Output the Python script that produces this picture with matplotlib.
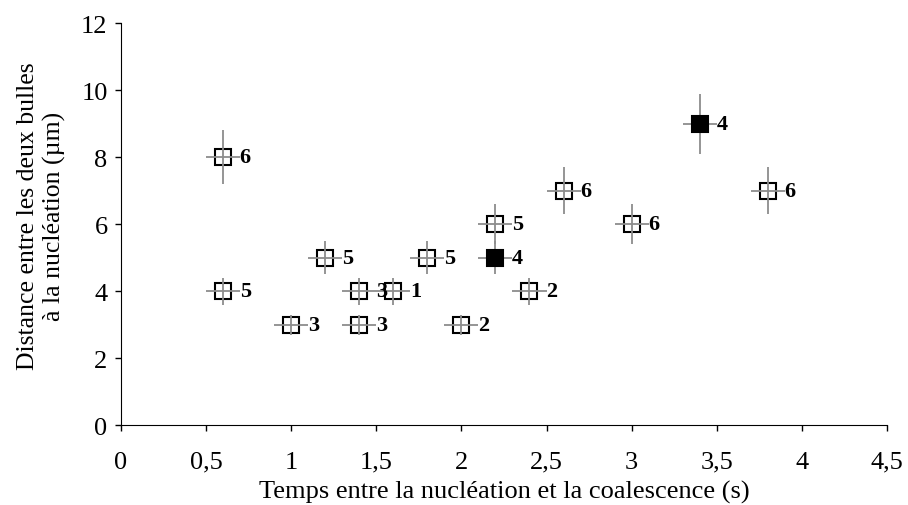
import matplotlib
matplotlib.use('Agg')
import matplotlib.pyplot as plt
import numpy as np

# data
x_temps = [0.6, 0.6, 1.0, 1.2, 1.4, 1.4, 1.6, 1.8, 2.0, 2.2, 2.4, 2.6, 3.0, 3.8]
y_dist = [8, 4, 3, 5, 4, 3, 4, 5, 3, 6, 4, 7, 6, 7]
n_labels = ['6', '5', '3', '5', '3', '3', '1', '5', '2', '5', '2', '6', '6', '6']

x_filled = [2.2, 3.4]
y_filled = [5, 9]
n_filled = ['4', '4']

x_err = 0.1
y_err_frac = 0.1

plt.rcParams['font.family'] = ['Liberation Serif', 'DejaVu Serif']

fig = plt.figure(figsize=(9.08, 5.06), dpi=100)
ax = fig.add_axes([0.133, 0.158, 0.844, 0.794])


def plot_group(xs, ys, labels, face, bars_on_top):
    xs = np.array(xs)
    ys = np.array(ys, dtype=float)
    ax.plot(xs, ys, 's', markersize=11, markerfacecolor=face,
            markeredgecolor='black', markeredgewidth=1.5, zorder=3,
            clip_on=False)
    ax.errorbar(xs, ys, xerr=x_err, yerr=ys * y_err_frac, fmt='none',
                ecolor='#8c8c8c', elinewidth=1.3, capsize=0,
                zorder=4 if bars_on_top else 2)
    for xi, yi, lab in zip(xs, ys, labels):
        ax.annotate(lab, (xi, yi), xytext=(12, 0), textcoords='offset points',
                    ha='left', va='center', fontsize=16, fontweight='bold',
                    zorder=5)


plot_group(x_temps, y_dist, n_labels, 'white', True)
plot_group(x_filled, y_filled, n_filled, 'black', False)

ax.set_xlim(0, 4.5)
ax.set_ylim(0, 12)
xt = np.arange(0, 4.51, 0.5)
ax.set_xticks(xt)
ax.set_xticklabels([('%g' % v).replace('.', ',') for v in xt])
ax.set_yticks(np.arange(0, 13, 2))
ax.spines['top'].set_visible(False)
ax.spines['right'].set_visible(False)
ax.tick_params(axis='both', labelsize=19, direction='out', length=4.5, width=1)
ax.tick_params(axis='x', pad=14)
ax.tick_params(axis='y', pad=5)

ax.set_xlabel('Temps entre la nucléation et la coalescence (s)', fontsize=19,
              labelpad=5)
ax.set_ylabel('Distance entre les deux bulles\nà la nucléation (µm)', fontsize=18.5,
              labelpad=8, linespacing=1.2)
ax.yaxis.set_label_coords(-0.072, 0.522)

fig.savefig('out.png', dpi=100)
